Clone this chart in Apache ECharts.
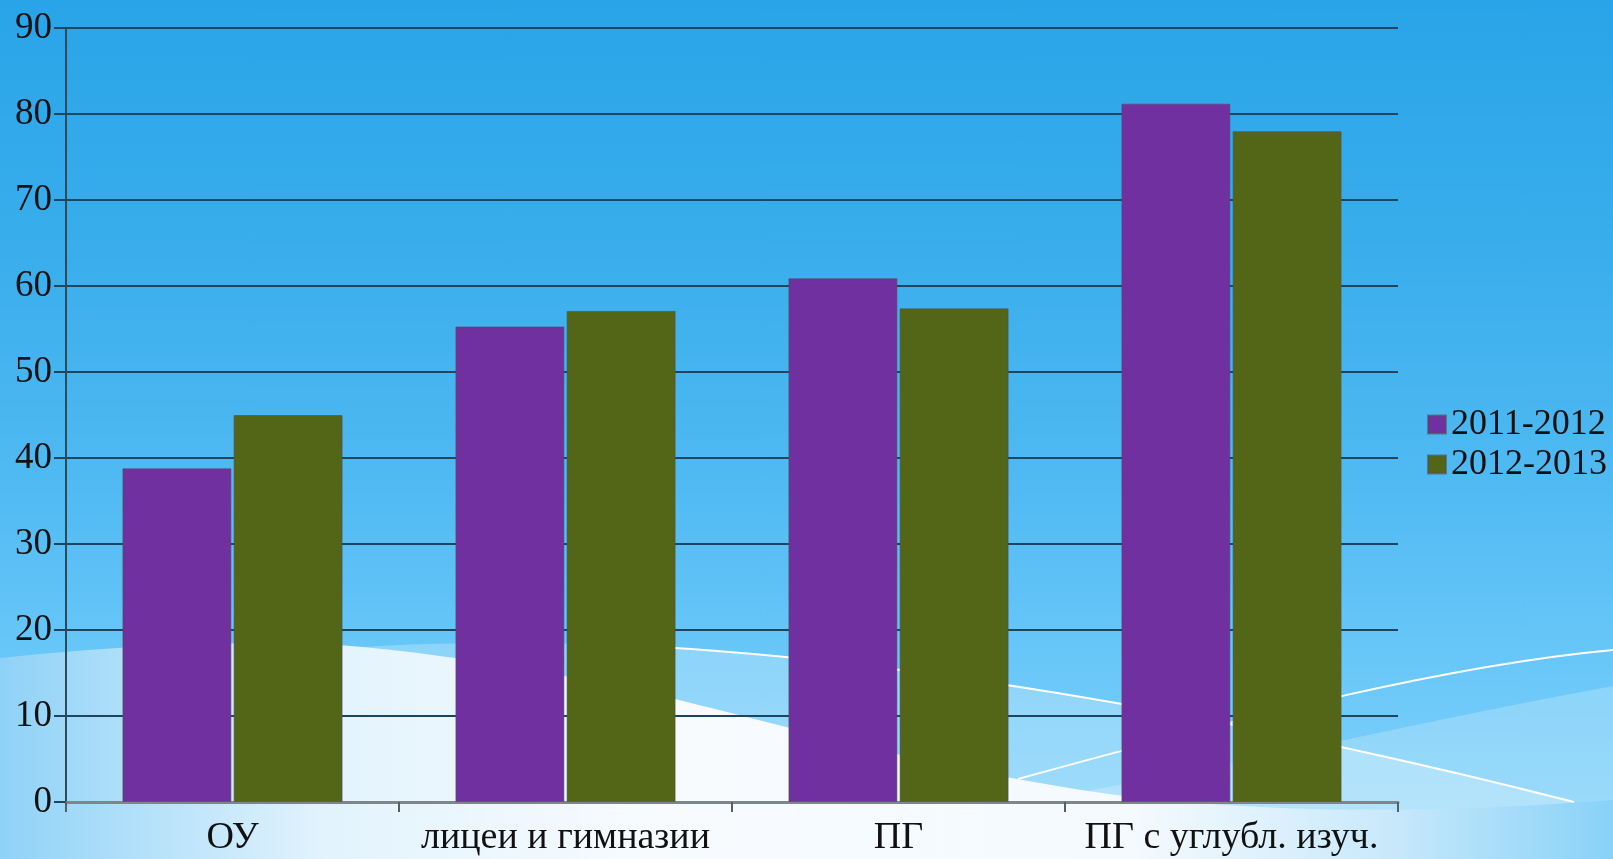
<!DOCTYPE html>
<html>
<head>
<meta charset="utf-8">
<script src="https://cdn.jsdelivr.net/npm/echarts@6/dist/echarts.min.js"></script>
<style>
html,body{margin:0;padding:0;width:1613px;height:859px;overflow:hidden;}
body{background:linear-gradient(to bottom,#29a4e8 0%,#3aaeec 30%,#4fb9f2 55%,#66c6f8 75%,#86d3fa 100%);}
#chart{width:1613px;height:859px;}
</style>
</head>
<body>
<div id="chart"></div>
<script>
var categories = ['ОУ', 'лицеи и гимназии', 'ПГ', 'ПГ с углубл. изуч.'];
var seriesNames = ['2011-2012', '2012-2013'];
var values2011 = [38.8, 55.3, 60.9, 81.2];
var values2012 = [45.0, 57.1, 57.4, 78.0];
var yTicks = [0, 10, 20, 30, 40, 50, 60, 70, 80, 90];

// decorative background helper: sample cubic bezier segments into polygon points
function curvePts(segs) {
  var pts = [];
  segs.forEach(function (s, si) {
    for (var i = (si === 0 ? 0 : 1); i <= 24; i++) {
      var t = i / 24, u = 1 - t;
      pts.push([
        u*u*u*s[0][0] + 3*u*u*t*s[1][0] + 3*u*t*t*s[2][0] + t*t*t*s[3][0],
        u*u*u*s[0][1] + 3*u*u*t*s[1][1] + 3*u*t*t*s[2][1] + t*t*t*s[3][1]
      ]);
    }
  });
  return pts;
}
var whiteTop = curvePts([
  [[0,658],[120,645],[250,640],[339,645]],
  [[339,645],[430,652],[560,672],[679,700]],
  [[679,700],[820,735],[960,775],[1132,797]],
  [[1132,797],[1300,815],[1450,812],[1613,800]]
]).concat([[1613,859],[0,859]]);
var band1 = curvePts([
  [[300,652],[420,640],[540,642],[640,646]],
  [[640,646],[950,662],[1300,732],[1574,802]]
]).concat([[1613,859],[300,859]]);
var band2 = curvePts([
  [[1000,805],[1200,775],[1400,725],[1613,686]]
]).concat([[1613,859],[1000,859]]);

var chart = echarts.init(document.getElementById('chart'), null, {renderer: 'canvas'});
var serif = '"Liberation Serif", "Times New Roman", serif';

var option = {
  animation: false,
  backgroundColor: 'transparent',
  graphic: [
    { type: 'polygon', z: -5, silent: true, shape: { points: band1 },
      style: { fill: 'rgba(255,255,255,0.25)' } },
    { type: 'polygon', z: -5, silent: true, shape: { points: band2 },
      style: { fill: 'rgba(255,255,255,0.22)' } },
    { type: 'polygon', z: -4, silent: true, shape: { points: whiteTop },
      style: { fill: { type: 'linear', x: 0, y: 0, x2: 1, y2: 0, colorStops: [
        {offset: 0, color: '#8fd2f7'},
        {offset: 0.2, color: '#e2f3fd'},
        {offset: 0.4, color: '#f7fbfe'},
        {offset: 0.7, color: '#f5fafe'},
        {offset: 0.86, color: '#c9e9fb'},
        {offset: 1, color: '#88d2f8'}
      ] } } },
    { type: 'bezierCurve', z: -3, silent: true,
      shape: { x1: 640, y1: 646, cpx1: 950, cpy1: 662, cpx2: 1300, cpy2: 732, x2: 1574, y2: 802 },
      style: { fill: 'none', stroke: '#ffffff', lineWidth: 2 } },
    { type: 'bezierCurve', z: -3, silent: true,
      shape: { x1: 1018, y1: 779, cpx1: 1250, cpy1: 715, cpx2: 1450, cpy2: 665, x2: 1613, y2: 650 },
      style: { fill: 'none', stroke: '#ffffff', lineWidth: 2 } }
  ],
  grid: { left: 66, right: 215, top: 28, bottom: 57, containLabel: false },
  legend: {
    orient: 'vertical',
    left: 1427,
    top: 406,
    padding: 0,
    itemWidth: 18,
    itemHeight: 18,
    itemGap: 3,
    icon: 'rect',
    data: seriesNames,
    textStyle: { fontFamily: serif, fontSize: 36, color: '#111', lineHeight: 37 }
  },
  xAxis: {
    type: 'category',
    data: categories,
    axisLine: { lineStyle: { color: '#7d868c', width: 3 } },
    axisTick: { show: true, length: 10, interval: 0, lineStyle: { color: '#555e63', width: 2 } },
    axisLabel: { interval: 0, fontFamily: serif, fontSize: 38, color: '#111', margin: 16, lineHeight: 40 },
    splitLine: { show: false }
  },
  yAxis: {
    type: 'value',
    min: 0, max: 90, interval: 10,
    axisLine: { show: true, lineStyle: { color: '#2c4a5a', width: 2 } },
    axisTick: { show: true, length: 12, lineStyle: { color: '#1c4560', width: 2 } },
    axisLabel: { fontFamily: serif, fontSize: 37, color: '#111', margin: 14,
      formatter: function (v) { return yTicks.indexOf(v) >= 0 ? String(v) : ''; } },
    splitLine: { show: true, lineStyle: { color: '#1c4560', width: 2 } }
  },
  series: [
    { name: seriesNames[0], type: 'bar', data: values2011, barWidth: 109, barGap: '2%',
      itemStyle: { color: '#7030a0', borderColor: 'rgba(80,80,90,0.6)', borderWidth: 1 } },
    { name: seriesNames[1], type: 'bar', data: values2012, barWidth: 109, barGap: '2%',
      itemStyle: { color: '#536618', borderColor: 'rgba(80,80,90,0.6)', borderWidth: 1 } }
  ]
};
chart.setOption(option);
</script>
</body>
</html>
